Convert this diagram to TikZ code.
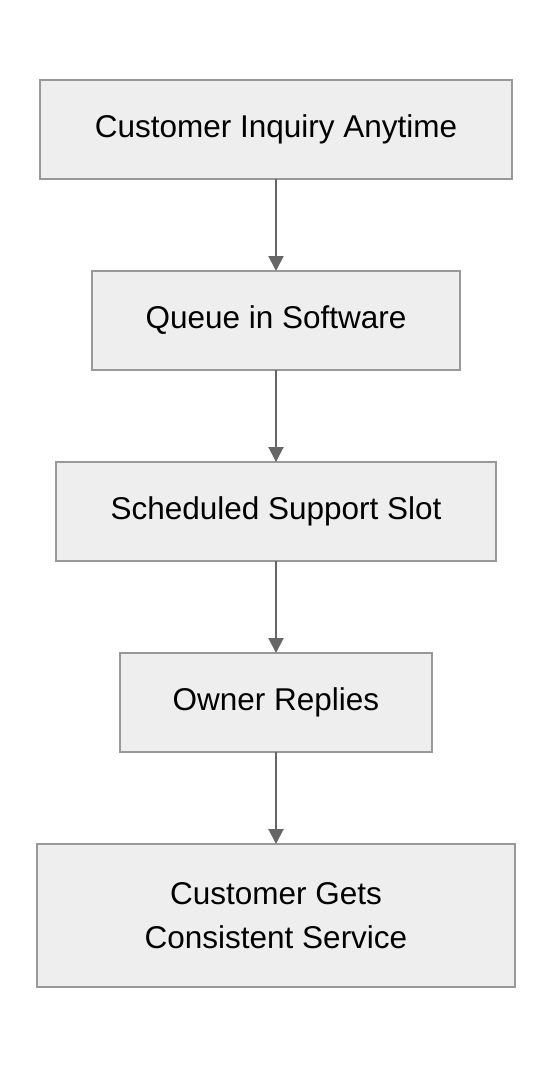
\documentclass[tikz,border=0pt]{standalone}
\usepackage{fontspec}
\setmainfont{Liberation Sans}
\usetikzlibrary{arrows.meta,positioning}
\definecolor{boxfill}{HTML}{EEEEEE}
\definecolor{boxline}{HTML}{999999}
\definecolor{arrowline}{HTML}{666666}

\begin{document}
\begin{tikzpicture}
		[x=1pt,y=1pt,node distance=92pt,>={Triangle[width=15pt,length=15pt]},
		 block/.style = {draw=boxline, fill=boxfill, line width=1.5pt, shape=rectangle,
		                 align=center, minimum height=99pt, inner sep=0pt, outer sep=0pt,
		                 font=\fontsize{31.5}{44}\selectfont},
		 flow/.style  = {->, draw=arrowline, line width=2pt},
		]
	\useasboundingbox (0,0) rectangle (552,-1068);

	\node [block, minimum width=472pt] at (276,-129.5) (inquiry)   {Customer Inquiry Anytime};
	\node [block, minimum width=368pt, below=of inquiry]  (queue)     {Queue in Software};
	\node [block, minimum width=440pt, below=of queue]    (slot)      {Scheduled Support Slot};
	\node [block, minimum width=312pt, below=of slot]     (replies)   {Owner Replies};
	\node [block, minimum width=478pt, minimum height=143pt, below=of replies] (service) {Customer Gets\\ Consistent Service};

	\draw[flow] (inquiry) -- (queue);
	\draw[flow] (queue) -- (slot);
	\draw[flow] (slot) -- (replies);
	\draw[flow] (replies) -- (service);
\end{tikzpicture}
\end{document}
